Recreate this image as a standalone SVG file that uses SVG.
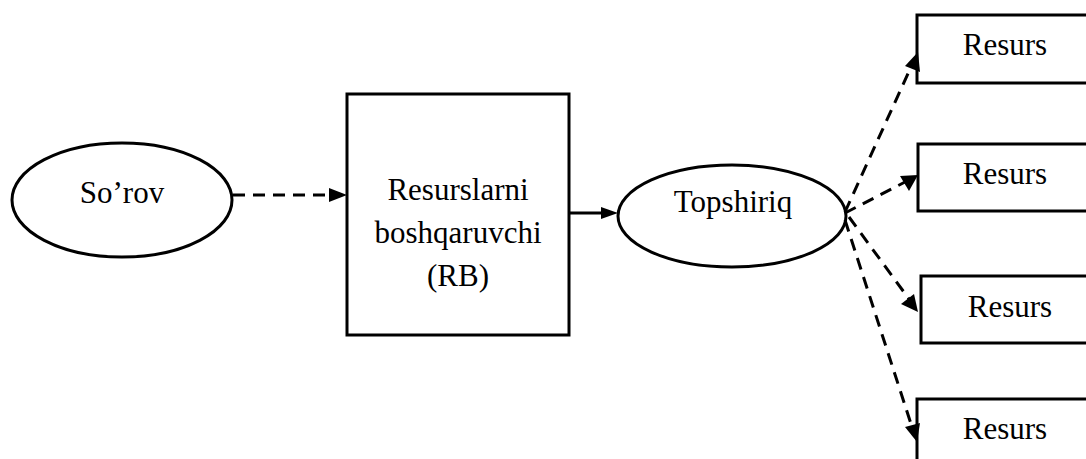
<svg xmlns="http://www.w3.org/2000/svg" width="1086" height="459" viewBox="0 0 1086 459">
<style>
.shape{fill:#fff;stroke:#000;stroke-width:3}
.t{font-family:"Liberation Serif","Times New Roman",serif;font-size:31px;fill:#000;text-anchor:middle}
.c{fill:none;stroke:#000;stroke-width:3}
.d{stroke-dasharray:12 8}
.ah{fill:#000}
</style>
<rect width="1086" height="459" fill="#fff"/>
<g id="sorov">
<ellipse class="shape" cx="122" cy="200" rx="110" ry="57"/>
<text class="t" x="122" y="203">So’rov</text>
</g>
<g id="rb">
<rect class="shape" x="347" y="94" width="222" height="241"/>
<text class="t" x="458" y="200">Resurslarni</text>
<text class="t" x="458" y="243">boshqaruvchi</text>
<text class="t" x="458" y="286">(RB)</text>
</g>
<g id="topshiriq">
<ellipse class="shape" cx="732" cy="216" rx="114" ry="51"/>
<text class="t" x="733" y="212">Topshiriq</text>
</g>
<g id="resurs1">
<rect class="shape" x="917" y="15" width="190" height="68"/>
<text class="t" x="1005" y="55">Resurs</text>
</g>
<g id="resurs2">
<rect class="shape" x="918" y="144" width="190" height="67"/>
<text class="t" x="1005" y="184">Resurs</text>
</g>
<g id="resurs3">
<rect class="shape" x="921" y="276" width="190" height="67"/>
<text class="t" x="1010" y="317">Resurs</text>
</g>
<g id="resurs4">
<rect class="shape" x="917" y="399" width="190" height="67"/>
<text class="t" x="1005" y="439">Resurs</text>
</g>
<g id="connectors">
<line class="c d" x1="233" y1="195" x2="331" y2="195"/>
<polygon class="ah" points="347,195 329,188 329,202"/>
<line class="c" x1="569" y1="213" x2="604" y2="213"/>
<polygon class="ah" points="618,213 601,207 601,219"/>
<line class="c d" x1="845" y1="212" x2="911" y2="67"/>
<polygon class="ah" points="918,52 920,72 905,66"/>
<line class="c d" x1="845" y1="213" x2="905" y2="182"/>
<polygon class="ah" points="918,175 909,191 900,176"/>
<line class="c d" x1="849" y1="217" x2="909" y2="299"/>
<polygon class="ah" points="918,312 901,304 914,294"/>
<line class="c d" x1="845" y1="220" x2="912" y2="427"/>
<polygon class="ah" points="917,442 905,427 920,423"/>
</g>
</svg>
